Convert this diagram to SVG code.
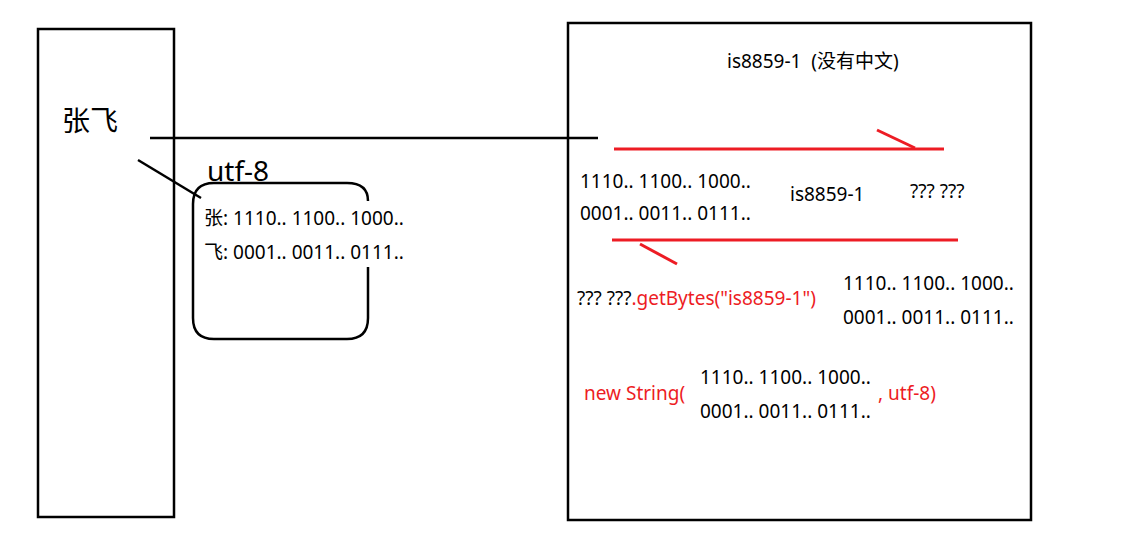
<svg xmlns="http://www.w3.org/2000/svg" width="1122" height="560" viewBox="0 0 1122 560">
<style>
.k{fill:none;stroke:#000;stroke-width:2.5}
.r{fill:none;stroke:#ed1c24;stroke-width:3}
text{font-family:"Noto Sans","Noto Sans CJK SC",sans-serif;font-size:19px;fill:#000}
.red{fill:#ed1c24}
.big{font-size:28px}
</style>
<rect width="1122" height="560" fill="#fff"/>
<g id="client">
<rect class="k" x="38" y="29" width="136" height="488"/>
<text class="big" x="62" y="131">张飞</text>
</g>
<g id="utf8box">
<path class="k" d="M368,267 V318 Q368,339 347,339 H214 Q193,339 193,318 V204 Q193,183 214,183 H347 Q368,183 368,201"/>
<text class="big" x="207" y="181">utf-8</text>
<text x="204" y="225">张: 1110.. 1100.. 1000..</text>
<text x="204" y="259">飞: 0001.. 0011.. 0111..</text>
</g>
<g id="server">
<rect class="k" x="568" y="23" width="463" height="497"/>
<text x="727" y="68" xml:space="preserve">is8859-1  (没有中文)</text>
<text x="580" y="188">1110.. 1100.. 1000..</text>
<text x="580" y="220">0001.. 0011.. 0111..</text>
<text x="790" y="201">is8859-1</text>
<text x="910" y="198">??? ???</text>
<text x="577" y="305">??? ???<tspan class="red">.getBytes("is8859-1")</tspan></text>
<text x="843" y="290">1110.. 1100.. 1000..</text>
<text x="843" y="324">0001.. 0011.. 0111..</text>
<text class="red" x="584" y="400">new String(</text>
<text x="700" y="384">1110.. 1100.. 1000..</text>
<text x="700" y="418">0001.. 0011.. 0111..</text>
<text class="red" x="878" y="400">, utf-8)</text>
</g>
<g id="connectors">
<line class="k" x1="150" y1="138" x2="598" y2="138"/>
<line class="k" x1="138" y1="160" x2="201" y2="198"/>
<line class="r" x1="614" y1="149" x2="944" y2="149"/>
<line class="r" x1="877" y1="130" x2="915" y2="148"/>
<line class="r" x1="612" y1="240" x2="958" y2="240"/>
<line class="r" x1="640" y1="244" x2="677" y2="264"/>
</g>
</svg>
